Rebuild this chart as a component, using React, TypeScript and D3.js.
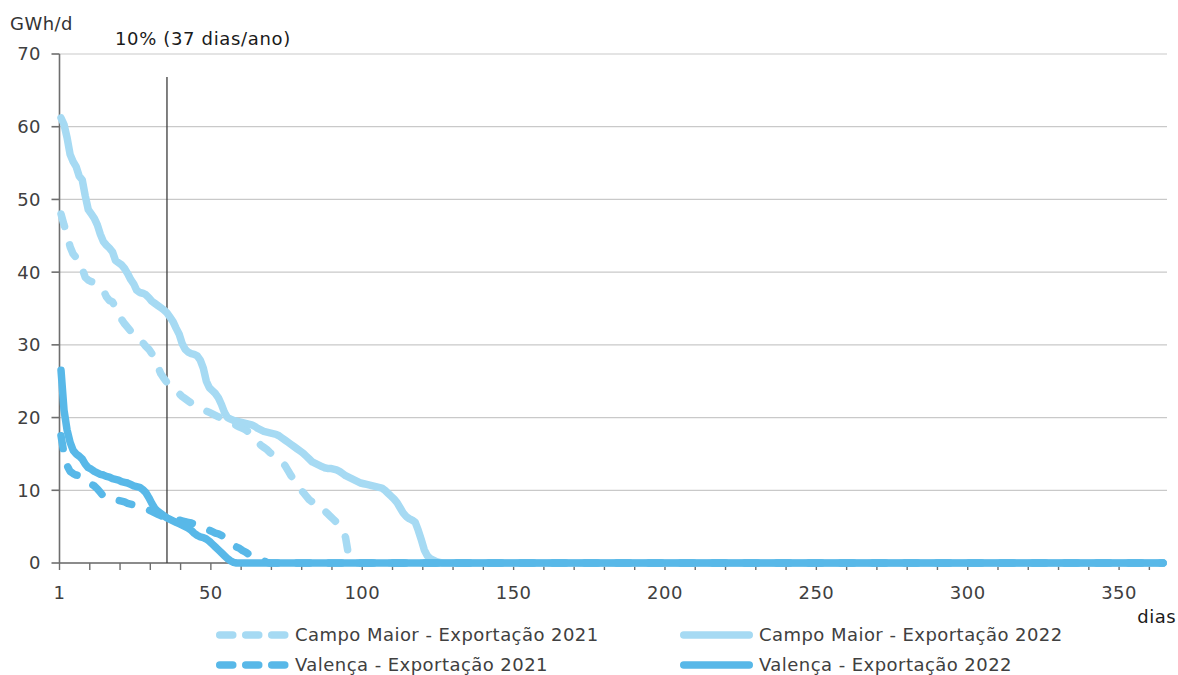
import React from "react";
import * as d3 from "d3";

// ---------- data (GWh/d, sorted duration curves, day 1..n, then zero until day 365) ----------
const seriesNames = [
  "Campo Maior - Exportação 2021",
  "Campo Maior - Exportação 2022",
  "Valença - Exportação 2021",
  "Valença - Exportação 2022",
];

const campoMaior2021 = [
  48.0, 46.5, 45.2, 43.5, 42.5, 42.0, 41.8, 40.5, 39.3, 38.9,
  38.7, 38.6, 38.3, 37.9, 37.5, 36.6, 36.1, 35.9, 35.2, 34.0,
  33.5, 32.9, 32.4, 31.9, 31.6, 31.3, 31.0, 30.3, 29.8, 29.4,
  28.8, 28.0, 27.0, 26.0, 25.4, 24.8, 24.3, 24.0, 23.8, 23.3,
  22.9, 22.6, 22.3, 22.0, 21.7, 21.5, 21.3, 21.1, 20.9, 20.7,
  20.5, 20.3, 20.1, 19.9, 19.7, 19.5, 19.3, 19.1, 18.9, 18.7,
  18.5, 18.3, 18.0, 17.6, 17.2, 16.7, 16.2, 15.9, 15.6, 15.2,
  14.9, 14.6, 14.3, 13.9, 13.4, 12.7, 12.0, 11.4, 10.8, 10.2,
  9.7, 9.2, 8.7, 8.4, 8.3, 8.2, 7.8, 7.2, 6.8, 6.4,
  6.0, 5.6, 5.1, 4.7, 3.5, 1.0, 0.3, 0,
];

const campoMaior2022 = [
  61.2, 60.3, 58.5, 56.2, 55.2, 54.5, 53.2, 52.7, 50.5, 48.6,
  48.0, 47.4, 46.5, 45.2, 44.2, 43.7, 43.3, 42.8, 41.6, 41.3,
  41.0, 40.5, 39.8, 39.0, 38.4, 37.5, 37.2, 37.1, 36.9, 36.5,
  36.0, 35.7, 35.4, 35.1, 34.8, 34.4, 33.8, 33.2, 32.3, 31.5,
  30.2, 29.4, 29.0, 28.8, 28.7, 28.5, 27.9, 26.8, 25.0, 24.1,
  23.7, 23.3, 22.7, 21.8, 20.7, 20.0, 19.8, 19.6, 19.5, 19.4,
  19.3, 19.2, 19.1, 19.0, 18.8, 18.5, 18.3, 18.1, 18.0, 17.9,
  17.8, 17.7, 17.5, 17.2, 16.9, 16.6, 16.3, 16.0, 15.7, 15.4,
  15.1, 14.7, 14.3, 13.9, 13.7, 13.5, 13.3, 13.1, 13.0, 13.0,
  12.9, 12.8, 12.6, 12.3, 12.0, 11.8, 11.6, 11.4, 11.2, 11.0,
  10.9, 10.8, 10.7, 10.6, 10.5, 10.4, 10.3, 10.0, 9.6, 9.2,
  8.8, 8.3, 7.6, 6.9, 6.4, 6.1, 5.9, 5.6, 4.5, 3.2,
  1.8, 1.0, 0.6, 0.4, 0.2, 0.1, 0,
];

const valenca2021 = [
  17.5, 15.0, 13.4, 12.6, 12.3, 12.1, 12.0, 11.8, 11.5, 11.1,
  10.8, 10.6, 10.2, 9.7, 9.2, 9.0, 8.8, 8.7, 8.6, 8.6,
  8.5, 8.4, 8.2, 8.1, 8.0, 7.9, 7.8, 7.6, 7.4, 7.3,
  7.1, 6.9, 6.7, 6.5, 6.3, 6.2, 6.1, 6.0, 5.9, 5.9,
  5.8, 5.7, 5.6, 5.5, 5.4, 5.2, 5.0, 4.9, 4.7, 4.5,
  4.3, 4.1, 4.0, 3.8, 3.5, 3.0, 2.7, 2.5, 2.2, 2.0,
  1.7, 1.5, 1.2, 1.0, 0.8, 0.6, 0.5, 0.3, 0.1, 0,
];

const valenca2022 = [
  26.5, 21.0, 18.3, 16.6, 15.5, 15.0, 14.7, 14.3, 13.6, 13.1,
  12.9, 12.6, 12.4, 12.2, 12.1, 11.9, 11.8, 11.6, 11.5, 11.4,
  11.2, 11.1, 11.0, 10.8, 10.6, 10.5, 10.4, 10.1, 9.7, 9.0,
  8.2, 7.5, 7.1, 6.8, 6.5, 6.2, 6.0, 5.8, 5.6, 5.4,
  5.2, 5.0, 4.8, 4.5, 4.1, 3.8, 3.6, 3.5, 3.3, 3.0,
  2.6, 2.2, 1.8, 1.4, 1.0, 0.6, 0.3, 0.1, 0,
];

const totalDays = 365;
const yTicks = [0, 10, 20, 30, 40, 50, 60, 70];
const xTickValues = [0, 10, 20, 30, 40, 50, 60, 70, 80, 90, 100, 110, 120, 130, 140, 150, 160, 170, 180, 190, 200, 210, 220, 230, 240, 250, 260, 270, 280, 290, 300, 310, 320, 330, 340, 350, 360];
const xLabelValues = [0, 50, 100, 150, 200, 250, 300, 350];
const xLabelTexts = ["1", "50", "100", "150", "200", "250", "300", "350"];
const markerDay = 36;
const markerText = "10% (37 dias/ano)";
const yUnit = "GWh/d";
const xUnit = "dias";

// ---------- styles ----------
const LIGHT = "#A6DAF3";
const DARK = "#58B8E8";
const FONT = "'DejaVu Sans', Verdana, sans-serif";
const LW = 7.5;
const LS = 0.45;

const seriesStyle = [
  { data: campoMaior2021, color: LIGHT, dashed: true },
  { data: campoMaior2022, color: LIGHT, dashed: false },
  { data: valenca2021, color: DARK, dashed: true },
  { data: valenca2022, color: DARK, dashed: false },
];

export default function App() {
  const W = 1178;
  const H = 675;
  const left = 59.5;
  const right = 1164.5;
  const plotRight = 1167;
  const top = 54;
  const bottom = 563;

  const x = d3.scaleLinear().domain([0, totalDays]).range([left, right]);
  const y = d3.scaleLinear().domain([0, 70]).range([bottom, top]);

  const line = d3
    .line<[number, number]>()
    .x((d) => x(d[0] - 0.5))
    .y((d) => y(d[1]));

  const toPoints = (vals: number[]): [number, number][] => {
    const pts: [number, number][] = vals.map((v, i) => [i + 1, v]);
    if (vals.length < totalDays) pts.push([totalDays, 0]);
    return pts;
  };

  const legendItems = [
    { name: seriesNames[0], color: LIGHT, dashed: true, lx: 216, ly: 635 },
    { name: seriesNames[1], color: LIGHT, dashed: false, lx: 680, ly: 635 },
    { name: seriesNames[2], color: DARK, dashed: true, lx: 216, ly: 665 },
    { name: seriesNames[3], color: DARK, dashed: false, lx: 680, ly: 665 },
  ];

  return (
    <svg
      width={W}
      height={H}
      style={{ position: "absolute", left: 0, top: 0, background: "#fff" }}
      fontFamily={FONT}
    >
      {/* gridlines */}
      {yTicks.map((t) => (
        <line key={"g" + t} x1={left} x2={plotRight} y1={y(t)} y2={y(t)} stroke="#C9C9C9" strokeWidth={1.2} />
      ))}
      {/* y axis */}
      <line x1={left} x2={left} y1={top} y2={bottom} stroke="#6E6E6E" strokeWidth={1.6} />
      {yTicks.map((t) => (
        <g key={"yt" + t}>
          <line x1={left - 8} x2={left} y1={y(t)} y2={y(t)} stroke="#6E6E6E" strokeWidth={1.6} />
          <text x={41} y={y(t)} dy="0.36em" textAnchor="end" fontSize={18} letterSpacing={LS} fill="#404040">
            {t}
          </text>
        </g>
      ))}
      {/* x axis */}
      <line x1={left} x2={plotRight} y1={bottom} y2={bottom} stroke="#6E6E6E" strokeWidth={1.6} />
      {xTickValues.map((t) => (
        <line key={"xt" + t} x1={x(t)} x2={x(t)} y1={bottom} y2={bottom + 7} stroke="#6E6E6E" strokeWidth={1.4} />
      ))}
      {xLabelValues.map((t, i) => (
        <text key={"xl" + t} x={x(t)} y={599} textAnchor="middle" fontSize={18} letterSpacing={LS} fill="#404040">
          {xLabelTexts[i]}
        </text>
      ))}
      <text x={1176} y={623} textAnchor="end" fontSize={18} letterSpacing={LS} fill="#1a1a1a">
        {xUnit}
      </text>
      <text x={10} y={30} fontSize={18} letterSpacing={LS} fill="#333">
        {yUnit}
      </text>

      {/* marker line */}
      <line x1={x(markerDay - 0.5)} x2={x(markerDay - 0.5)} y1={77} y2={bottom} stroke="#3C3C3C" strokeWidth={1.3} />
      <text x={115} y={45} fontSize={18} letterSpacing={LS + 0.2} fill="#1a1a1a">
        {markerText}
      </text>

      {/* series */}
      {seriesStyle.map((s, i) => (
        <path
          key={"s" + i}
          d={line(toPoints(s.data)) || ""}
          fill="none"
          stroke={s.color}
          strokeWidth={LW}
          strokeLinecap="round"
          strokeLinejoin="round"
          strokeDasharray={s.dashed ? "13 19" : undefined}
        />
      ))}

      {/* legend */}
      {legendItems.map((it, i) => (
        <g key={"lg" + i}>
          <line
            x1={it.lx + LW / 2}
            x2={it.lx + 73 - LW / 2}
            y1={it.ly}
            y2={it.ly}
            stroke={it.color}
            strokeWidth={LW}
            strokeLinecap="round"
            strokeDasharray={it.dashed ? "13 13" : undefined}
          />
          <text x={it.lx + 79} y={it.ly} dy="0.36em" fontSize={18} letterSpacing={LS} fill="#404040">
            {it.name}
          </text>
        </g>
      ))}
    </svg>
  );
}
